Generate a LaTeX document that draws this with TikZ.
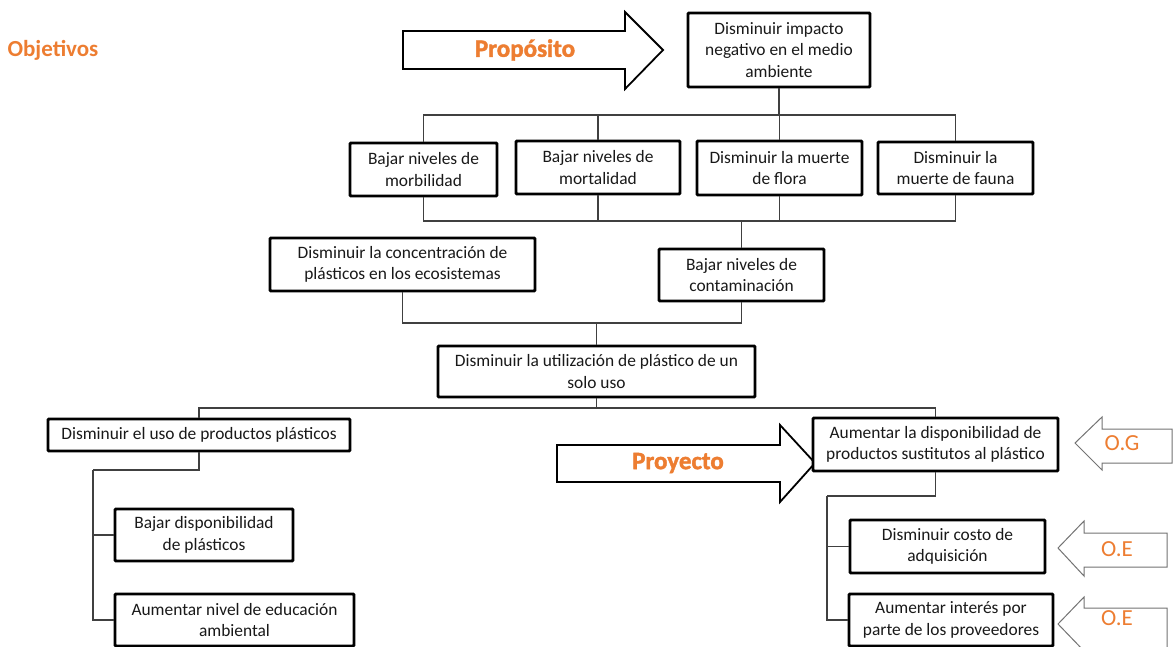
\documentclass[tikz,border=0pt]{standalone}
\usepackage{fontspec}
\setmainfont{Carlito}
\newfontfamily\heavy[BoldFeatures={FakeBold=1.6}]{Carlito}
\definecolor{orng}{HTML}{ED7D31}
\begin{document}
\begin{tikzpicture}[x=1pt,y=-1pt,
  box/.style={draw=black, line width=2.9pt, rounded corners=1pt, fill=white, inner sep=0pt, align=center, font=\fontsize{17.4}{21.5}\selectfont, text=black!90},
  conn/.style={draw=black!75, line width=1.2pt},
  bigarrow/.style={draw=black, line width=1.8pt, fill=white, line join=miter},
  smallarrow/.style={draw=black!55, line width=1pt, fill=white, line join=miter},
  arrowlbl/.style={text=orng, font=\fontsize{25}{28}\selectfont\heavy\bfseries},
  olbl/.style={text=orng, font=\fontsize{23}{26}\selectfont}]
\useasboundingbox (0,0) rectangle (1173,646);
\clip (0,0) rectangle (1173,646);

% title
\node[text=orng, font=\fontsize{23}{26}\selectfont\bfseries] (obj) at (53,50) {Objetivos};

% big arrows
\draw[bigarrow] (403,31) -- (625,31) -- (625,12) -- (663,50) -- (625,89) -- (625,69) -- (403,69) -- cycle;
\node[arrowlbl] (prop) at (525,50) {Propósito};
\draw[bigarrow] (557,445) -- (780,445) -- (780,425) -- (815,463) -- (780,502) -- (780,482) -- (557,482) -- cycle;
\node[arrowlbl] (proy) at (678,463) {Proyecto};

% small arrows
\draw[smallarrow] (1075,443) -- (1102,417) -- (1102,429) -- (1172,429) -- (1172,463) -- (1102,463) -- (1102,470) -- cycle;
\node[olbl] (og) at (1122,443) {O.G};
\draw[smallarrow] (1058,548) -- (1084,521) -- (1084,533) -- (1167,533) -- (1167,567) -- (1084,567) -- (1084,576) -- cycle;
\node[olbl] (oe1) at (1117,549) {O.E};
\draw[smallarrow] (1058,624) -- (1084,597) -- (1084,608) -- (1167,608) -- (1167,652) -- (1084,652) -- (1084,651) -- cycle;
\node[olbl] (oe2) at (1117,618) {O.E};

% boxes
\node[box, minimum width=182, minimum height=74] (top) at (779,50) {Disminuir impacto\\negativo en el medio\\ambiente};
\node[box, minimum width=147, minimum height=53] (b1) at (423.5,169.5) {Bajar niveles de\\morbilidad};
\node[box, minimum width=164, minimum height=53] (b2) at (598,167.5) {Bajar niveles de\\mortalidad};
\node[box, minimum width=165, minimum height=54] (b3) at (779.5,168) {Disminuir la muerte\\de flora};
\node[box, minimum width=155, minimum height=52] (b4) at (955.5,168) {Disminuir la\\muerte de fauna};
\node[box, minimum width=265, minimum height=53] (conc) at (402.5,264.5) {Disminuir la concentración de\\plásticos en los ecosistemas};
\node[box, minimum width=165, minimum height=52] (cont) at (741.5,275) {Bajar niveles de\\contaminación};
\node[box, minimum width=317, minimum height=51] (util) at (596.5,371.5) {Disminuir la utilización de plástico de un\\solo uso};
\node[box, minimum width=302, minimum height=32] (uso) at (199,435) {Disminuir el uso de productos plásticos};
\node[box, minimum width=245, minimum height=53] (sust) at (935.5,444.5) {Aumentar la disponibilidad de\\productos sustitutos al plástico};
\node[box, minimum width=178, minimum height=52] (bdisp) at (204,535) {Bajar disponibilidad\\de plásticos};
\node[box, minimum width=239, minimum height=52] (aedu) at (234.5,620) {Aumentar nivel de educación\\ambiental};
\node[box, minimum width=195, minimum height=53] (dcost) at (947.5,546.5) {Disminuir costo de\\adquisición};
\node[box, minimum width=204, minimum height=52] (aint) at (951,620) {Aumentar interés por\\parte de los proveedores};

% connectors
\coordinate (j1) at (top.south |- 0,115);
\draw[conn] (top.south) -- (j1);
\draw[conn] (b1.north) |- (j1) -| (b4.north);
\draw[conn] (b2.north) -- (b2.north |- j1);
\draw[conn] (b3.north) -- (b3.north |- j1);
\coordinate (j2) at (cont.north |- 0,221);
\draw[conn] (b1.south) |- (j2) -| (b4.south);
\draw[conn] (b2.south) -- (b2.south |- j2);
\draw[conn] (b3.south) -- (b3.south |- j2);
\draw[conn] (j2) -- (cont.north);
\coordinate (j3) at (util.north |- 0,323);
\draw[conn] (conc.south) |- (j3) -| (cont.south);
\draw[conn] (j3) -- (util.north);
\coordinate (j4) at (util.south |- 0,408);
\draw[conn] (util.south) -- (j4);
\draw[conn] (uso.north) |- (j4) -| (sust.north);
\coordinate (c1) at (93,470);
\draw[conn] (uso.south) |- (c1);
\draw[conn] (c1) |- (bdisp.west);
\draw[conn] (c1) |- (aedu.west);
\coordinate (c2) at (827,496);
\draw[conn] (sust.south) |- (c2);
\draw[conn] (c2) |- (dcost.west);
\draw[conn] (c2) |- (aint.west);
\end{tikzpicture}
\end{document}
